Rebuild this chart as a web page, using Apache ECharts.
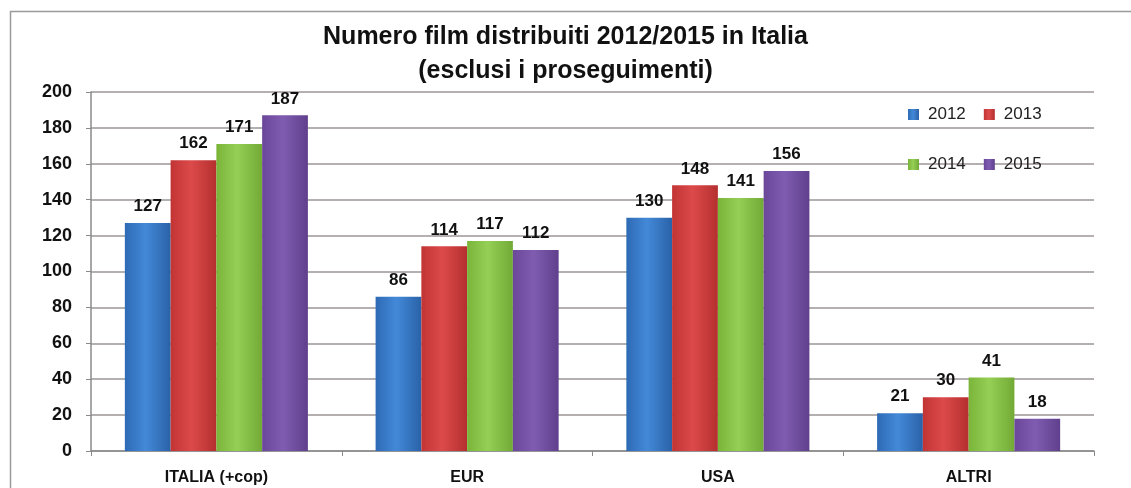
<!DOCTYPE html>
<html>
<head>
<meta charset="utf-8">
<script src="https://cdn.jsdelivr.net/npm/echarts@6/dist/echarts.min.js"></script>
<style>
    html, body { margin: 0; padding: 0; background: #fff; }
    #chart { width: 1131px; height: 488px; }
</style>
</head>
<body>
<div id="chart"></div>
<script>
// categorie e valori
const categories = ['ITALIA (+cop)', 'EUR', 'USA', 'ALTRI'];
const years = ['2012', '2013', '2014', '2015'];
const films2012 = [127, 86, 130, 21];
const films2013 = [162, 114, 148, 30];
const films2014 = [171, 117, 141, 41];
const films2015 = [187, 112, 156, 18];
const yTicks = [0, 20, 40, 60, 80, 100, 120, 140, 160, 180, 200];

const FONT = '"Liberation Sans", Arial, sans-serif';

// colori con sfumatura orizzontale (effetto 3D)
function shade(edge, mid, edge2) {
    return new echarts.graphic.LinearGradient(0, 0, 1, 0, [
        { offset: 0, color: edge },
        { offset: 0.45, color: mid },
        { offset: 1, color: edge2 }
    ]);
}
const colors = [
    shade('#2e6ab5', '#4389d8', '#2a62a8'),
    shade('#c23434', '#dc4a4a', '#b52f2f'),
    shade('#7ab53a', '#95cf55', '#72aa36'),
    shade('#6a4799', '#7f5cb0', '#60408d')
];
const solid = ['#3a7fcc', '#d94343', '#8cc84b', '#7755a8'];
const values = [films2012, films2013, films2014, films2015];

const chart = echarts.init(document.getElementById('chart'));

chart.setOption({
    animation: false,
    backgroundColor: '#ffffff',
    graphic: [{
        type: 'rect',
        left: 8,
        top: 9,
        shape: { width: 1200, height: 600 },
        style: { fill: 'none', stroke: '#9a9a9a', lineWidth: 1.5 },
        silent: true
    }],
    title: {
        text: 'Numero film distribuiti 2012/2015 in Italia\n(esclusi i proseguimenti)',
        left: 'center',
        top: 15,
        textStyle: {
            fontFamily: FONT,
            fontSize: 25,
            fontWeight: 'bold',
            color: '#111',
            lineHeight: 34
        }
    },
    legend: [0, 1].map(row => ({
        data: years.slice(row * 2, row * 2 + 2),
        left: 903,
        top: 101 + row * 50,
        orient: 'horizontal',
        itemWidth: 11,
        itemHeight: 11,
        itemGap: 18,
        icon: 'rect',
        textStyle: {
            fontFamily: FONT,
            fontSize: 17,
            color: '#222',
            padding: [0, 0, 0, 4]
        }
    })),
    grid: {
        left: 91,
        right: 37,
        top: 92,
        bottom: 37
    },
    xAxis: {
        type: 'category',
        data: categories,
        axisLine: { lineStyle: { color: '#8a8a8a', width: 1.5 } },
        axisTick: { show: true, length: 5, lineStyle: { color: '#8a8a8a' } },
        axisLabel: {
            fontFamily: FONT,
            fontSize: 16,
            fontWeight: 'bold',
            color: '#111',
            margin: 19
        }
    },
    yAxis: {
        type: 'value',
        min: yTicks[0],
        max: yTicks[yTicks.length - 1],
        interval: yTicks[1] - yTicks[0],
        axisLine: { show: true, lineStyle: { color: '#8a8a8a', width: 1.5 } },
        axisTick: { show: true, length: 5, lineStyle: { color: '#8a8a8a' } },
        splitLine: { lineStyle: { color: '#9c9696', width: 1.5 } },
        axisLabel: {
            fontFamily: FONT,
            fontSize: 18,
            fontWeight: 'bold',
            color: '#111',
            margin: 19
        }
    },
    series: years.map((y, i) => ({
        name: y,
        type: 'bar',
        data: values[i],
        barGap: '0%',
        barCategoryGap: '27%',
        color: solid[i],
        itemStyle: { color: colors[i] },
        label: {
            show: true,
            position: 'top',
            distance: 8,
            fontFamily: FONT,
            fontSize: 17,
            fontWeight: 'bold',
            color: '#111'
        }
    }))
});
</script>
</body>
</html>
